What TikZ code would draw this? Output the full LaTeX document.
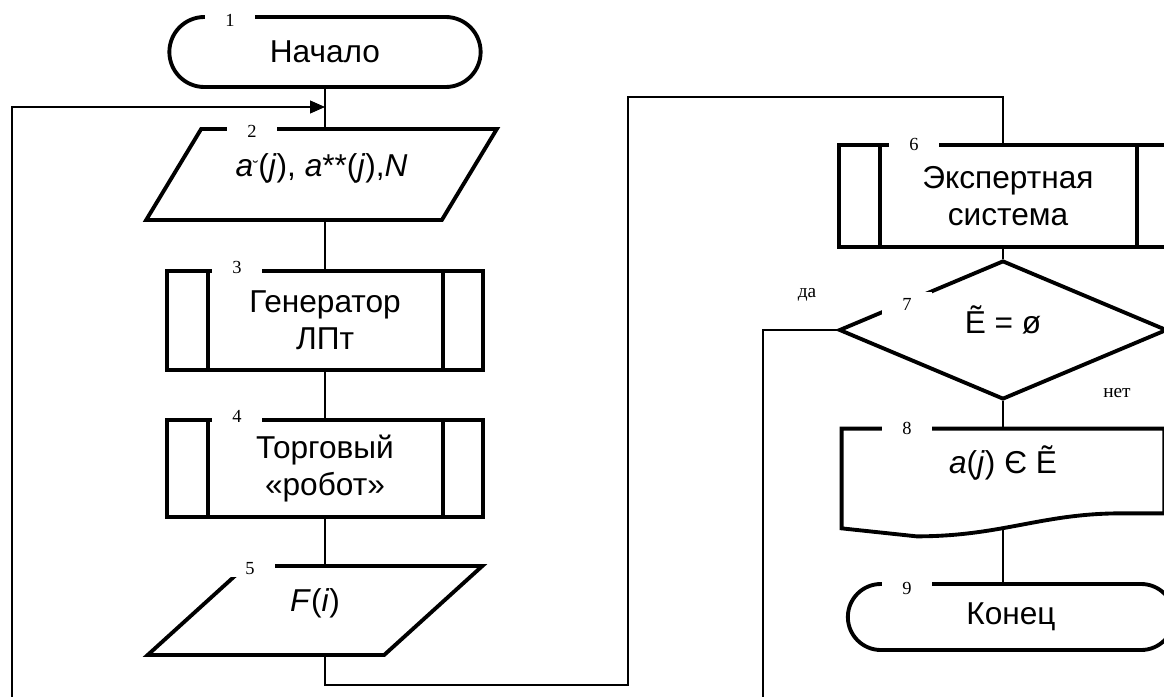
\documentclass[tikz,border=0pt]{standalone}
\usepackage{fontspec}
\setmainfont{Liberation Sans}
\newfontfamily\serifnum{Liberation Serif}
\usetikzlibrary{shapes.geometric,shapes.misc,arrows.meta}

\begin{document}
\begin{tikzpicture}[
    blk/.style={draw, line width=2.2pt, align=center,
                font=\fontsize{18}{21}\selectfont},
    term/.style={blk, rounded rectangle, minimum height=1.4cm},
    io/.style={blk, trapezium, trapezium stretches=true,
               trapezium left angle=52, trapezium right angle=128},
    subproc/.style={blk, minimum width=6.32cm, minimum height=1.98cm,
                path picture={
                  \draw[line width=2.2pt]
                    ([xshift=0.82cm]path picture bounding box.north west) --
                    ([xshift=0.82cm]path picture bounding box.south west)
                    ([xshift=-0.8cm]path picture bounding box.north east) --
                    ([xshift=-0.8cm]path picture bounding box.south east);}},
    decision/.style={blk, diamond, minimum width=6.56cm, minimum height=2.6cm},
    docbox/.style={rectangle, align=center, minimum width=6.44cm,
                   minimum height=1.98cm, font=\fontsize{18}{21}\selectfont},
    up/.style={text height=0.45cm, text depth=#1},
    num/.style={fill=white, inner sep=1pt, minimum width=1cm,
                font=\serifnum\fontsize{10.5}{12}\selectfont},
    lbl/.style={font=\serifnum\fontsize{11}{13}\selectfont},
    conn/.style={line width=0.6pt},
    arr/.style={conn, -{Triangle[length=0.3cm,width=0.26cm]}},
  ]
    \useasboundingbox (0,0) rectangle (23.28,-13.94);

    % Left column ------------------------------------------------------------
    \node[term, minimum width=6.46cm] (n1) at (6.5,-1.04) {Начало};
    \node[io, up=0.39cm, minimum width=7.02cm, minimum height=1.82cm] (n2) at (6.43,-3.49)
      {\textit{a}\raisebox{2pt}{\fontsize{9}{9}\selectfont ˘}(\textit{j}), \textit{a}**(\textit{j}),\textit{N}};
    \node[subproc] (n3) at (6.5,-6.41) {Генератор\\ЛПт};
    \node[subproc, minimum height=1.94cm] (n4) at (6.5,-9.37) {Торговый\\«робот»};
    \node[io, up=0.43cm, minimum width=6.72cm, minimum height=1.78cm] (n5) at (6.3,-12.21)
      {\textit{F}(\textit{i})};

    % Right column -----------------------------------------------------------
    \node[subproc, minimum width=6.76cm, minimum height=2.04cm] (n6) at (20.16,-3.92)
      {Экспертная\\система};
    \node[decision, up=0.33cm] (n7) at (20.06,-6.6) {Ẽ = ø};
    \node[docbox, up=0.67cm] (n8) at (20.06,-9.57) {\textit{a}(\textit{j}) Є Ẽ};
    \draw[line width=2.2pt] (n8.south west)
      -- ([xshift=1.5cm,yshift=-0.16cm]n8.south west)
      .. controls +(1.7,0) and +(-1.6,0) .. ([xshift=-0.86cm,yshift=0.3cm]n8.south east)
      -- ([yshift=0.3cm]n8.south east) -- (n8.north east) -- (n8.north west) -- cycle;
    \node[term, minimum width=6.76cm, minimum height=1.32cm] (n9) at (20.22,-12.34) {Конец};

    % Block numbers ----------------------------------------------------------
    \node[num] (k1) at (4.6,-0.4)    {1};
    \node[num] (k2) at (5.04,-2.62)  {2};
    \node[num] (k3) at (4.74,-5.34)  {3};
    \node[num] (k4) at (4.74,-8.32)  {4};
    \node[num] (k5) at (5.0,-11.38)  {5};
    \node[num] (k6) at (18.28,-2.88) {6};
    \node[num, minimum height=0.5cm] (k7) at (18.14,-6.08) {7};
    \node[num] (k8) at (18.14,-8.56) {8};
    \node[num] (k9) at (18.14,-11.76) {9};

    % Branch labels ----------------------------------------------------------
    \node[lbl] (yes) at (16.14,-5.9)  {да};
    \node[lbl] (no)  at (22.34,-7.86) {нет};

    % Connectors -------------------------------------------------------------
    \coordinate (loopbot) at (0.24,-13.94);
    \coordinate (loopin)  at (0.24,-2.14);
    \coordinate (low)     at (6.5,-13.7);
    \coordinate (high)    at (12.56,-1.94);
    \coordinate (yesbot)  at (15.26,-13.94);

    \draw[conn] (n1.south) -- (n1.south |- n2.north);
    \draw[arr]  (loopbot) -- (loopin) -- (loopin -| n1.south);
    \draw[conn] (n2.south -| n1.south) -- (n3.north);
    \draw[conn] (n3.south) -- (n4.north);
    \draw[conn] (n4.south) -- (n4.south |- n5.north);
    \draw[conn] (n5.south -| n4.south) -- (low) -| (high) -| (n7.north |- n6.north);
    \draw[conn] (n6.south -| n7.north) -- (n7.north);
    \draw[conn] (n7.south) -- (n7.south |- n8.north);
    \draw[conn] (n7.west) -| (yesbot);
    \draw[conn] (n8.south) -- (n8.south |- n9.north);
  \end{tikzpicture}
\end{document}
